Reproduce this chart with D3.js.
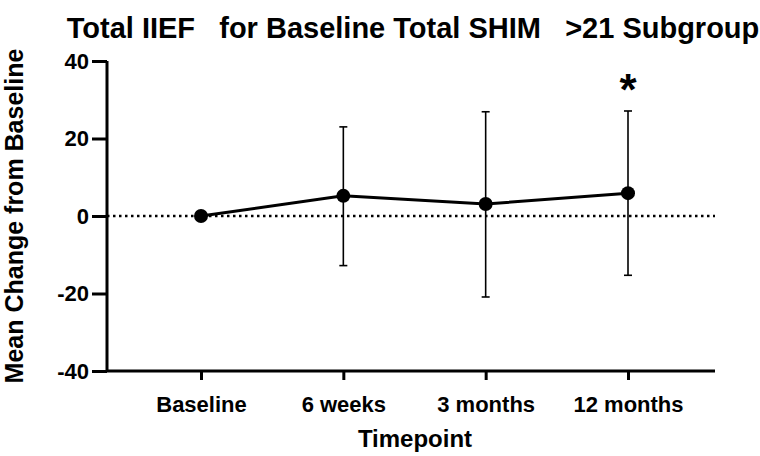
<!DOCTYPE html>
<html>
<head>
<meta charset="utf-8">
<script src="https://cdn.jsdelivr.net/npm/d3@7"></script>
<style>
  body { margin: 0; background: #fff; }
  text { font-family: "Liberation Sans", Arial, sans-serif; font-weight: bold; fill: #000; }
</style>
</head>
<body>
<div id="chart"></div>
<script>
// data
const timepoints = ['Baseline', '6 weeks', '3 months', '12 months']
const meanChange = [0, 5.2, 3.1, 5.9]
const errLow = [0, -12.8, -20.9, -15.3]
const errHigh = [0, 23.0, 26.9, 27.1]
const significant = [false, false, false, true]
const yTicks = [-40, -20, 0, 20, 40]

const width = 760
const height = 456
const margin = { top: 61, right: 45, bottom: 85, left: 107 }

const svg = d3.select('#chart')
  .append('svg')
  .attr('width', width)
  .attr('height', height)

const x = d3.scalePoint()
  .domain(timepoints)
  .range([201, 628])

const y = d3.scaleLinear()
  .domain([-40, 40])
  .range([height - margin.bottom, margin.top])

// zero reference line
svg.append('line')
  .attr('x1', margin.left)
  .attr('x2', width - margin.right)
  .attr('y1', y(0))
  .attr('y2', y(0))
  .attr('stroke', '#000')
  .attr('stroke-width', 2.5)
  .attr('stroke-dasharray', '2.5,3.5')

// axes
const yAxis = svg.append('g')
  .attr('transform', `translate(${margin.left},0)`)
  .call(d3.axisLeft(y).tickValues(yTicks).tickSize(15).tickPadding(3).tickFormat(d => String(d)))
yAxis.select('.domain').attr('stroke-width', 3).attr('d', `M0,${y(40)}V${y(-40)}`)
yAxis.selectAll('.tick line').attr('stroke-width', 3)
yAxis.selectAll('.tick text').style('font-size', '22px')

const xAxis = svg.append('g')
  .attr('transform', `translate(0,${y(-40)})`)
  .call(d3.axisBottom(x).tickSize(9).tickPadding(16))
xAxis.select('.domain').attr('stroke-width', 3).attr('d', `M${margin.left},0H${width - margin.right}`)
xAxis.selectAll('.tick line').attr('stroke-width', 3)
xAxis.selectAll('.tick text').style('font-size', '22px')

const data = timepoints.map((t, i) => ({
  t, mean: meanChange[i], lo: errLow[i], hi: errHigh[i], sig: significant[i]
}))

// error bars
const eb = svg.append('g').selectAll('g')
  .data(data.filter(d => d.hi !== d.lo))
  .enter()
  .append('g')
  .attr('stroke', '#000')
  .attr('stroke-width', 1.6)
eb.append('line')
  .attr('x1', d => x(d.t)).attr('x2', d => x(d.t))
  .attr('y1', d => y(d.hi)).attr('y2', d => y(d.lo))
eb.append('line')
  .attr('x1', d => x(d.t) - 4).attr('x2', d => x(d.t) + 4)
  .attr('y1', d => y(d.hi)).attr('y2', d => y(d.hi))
eb.append('line')
  .attr('x1', d => x(d.t) - 4).attr('x2', d => x(d.t) + 4)
  .attr('y1', d => y(d.lo)).attr('y2', d => y(d.lo))

// mean line
svg.append('path')
  .datum(data)
  .attr('fill', 'none')
  .attr('stroke', '#000')
  .attr('stroke-width', 3)
  .attr('d', d3.line().x(d => x(d.t)).y(d => y(d.mean)))

svg.append('g').selectAll('circle')
  .data(data)
  .enter()
  .append('circle')
  .attr('cx', d => x(d.t))
  .attr('cy', d => y(d.mean))
  .attr('r', 7)
  .attr('fill', '#000')

// significance marker
svg.append('g').selectAll('text')
  .data(data.filter(d => d.sig))
  .enter()
  .append('text')
  .attr('x', d => x(d.t))
  .attr('y', d => y(d.hi) - 6)
  .attr('text-anchor', 'middle')
  .style('font-size', '44px')
  .text('*')

// titles
svg.append('text')
  .attr('x', 413)
  .attr('y', 38)
  .attr('text-anchor', 'middle')
  .style('font-size', '29px')
  .style('white-space', 'pre')
  .text('Total IIEF   for Baseline Total SHIM   >21 Subgroup')

svg.append('text')
  .attr('x', 415)
  .attr('y', 447)
  .attr('text-anchor', 'middle')
  .style('font-size', '24px')
  .text('Timepoint')

svg.append('text')
  .attr('transform', `translate(23,${y(0)}) rotate(-90)`)
  .attr('text-anchor', 'middle')
  .style('font-size', '25px')
  .text('Mean Change from Baseline')
</script>
</body>
</html>
